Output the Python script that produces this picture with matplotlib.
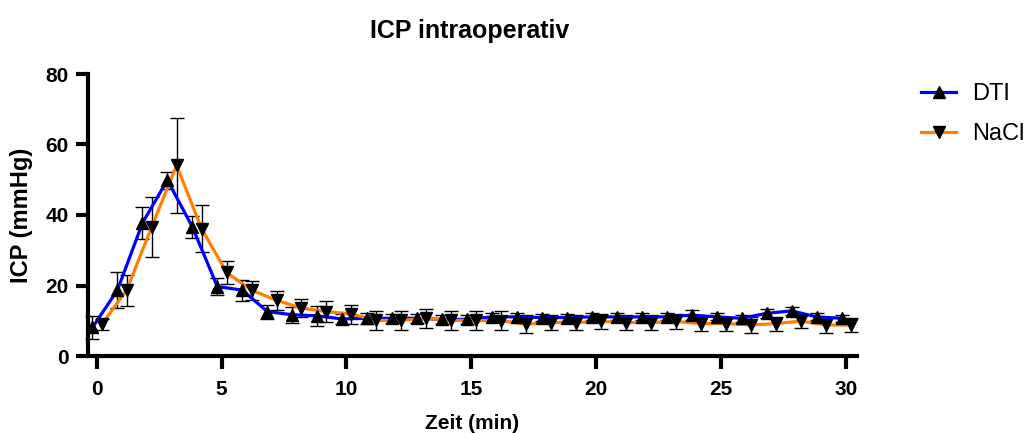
import numpy as np
import matplotlib
matplotlib.use("Agg")
import matplotlib.pyplot as plt

plt.rcParams['font.family'] = ['Liberation Sans', 'DejaVu Sans']
plt.rcParams['font.weight'] = 'bold'

# minutes after start
minutes = np.arange(31)

dti_mean = [8.1, 18.7, 37.7, 49.9, 36.6, 19.7, 18.7, 12.6, 11.7, 11.4, 10.5,
            10.7, 10.7, 10.7, 10.4, 10.4, 11.1, 11.1, 10.9, 10.9, 11.1, 11.1,
            11.1, 11.1, 11.6, 11.1, 10.7, 12.1, 12.8, 11.1, 10.7]
dti_err = [3.2, 5.0, 4.6, 2.4, 3.0, 2.5, 3.0, 2.0, 2.3, 2.9, 1.5, 1.5, 1.2,
           1.2, 1.2, 1.2, 1.2, 1.2, 1.0, 1.0, 1.0, 1.0, 1.0, 1.0, 1.5, 1.0,
           1.0, 1.2, 1.2, 1.0, 1.0]

nacl_mean = [9.0, 18.7, 36.6, 54.1, 36.1, 23.7, 18.7, 15.8, 13.6, 12.6, 11.9,
             10.1, 10.1, 10.7, 10.1, 10.1, 10.0, 9.0, 9.5, 9.5, 9.8, 9.5, 9.5,
             9.8, 9.2, 9.2, 8.8, 9.2, 9.9, 8.8, 8.8]
nacl_err = [1.5, 4.4, 8.5, 13.5, 6.7, 3.3, 2.7, 2.7, 2.5, 3.0, 2.7, 2.7, 2.6,
            2.7, 2.7, 2.6, 2.7, 2.5, 2.2, 2.2, 2.0, 2.0, 2.0, 2.0, 2.0, 2.0,
            2.2, 2.0, 2.0, 2.2, 2.0]

# small horizontal nudge so the two groups don't overlap (as in prism)
nudge_dti = -0.17
nudge_nacl = 0.2

fig = plt.figure(figsize=(10.25, 4.33), dpi=100)
ax = fig.add_axes([88 / 1025, 77 / 433, 769 / 1025, 282 / 433])

x_dti = minutes + nudge_dti
x_nacl = minutes + nudge_nacl

ax.errorbar(x_dti, dti_mean, yerr=dti_err, fmt='none', ecolor='black',
            elinewidth=1.0, capsize=5, capthick=1.0, zorder=2, clip_on=False)
ax.errorbar(x_nacl, nacl_mean, yerr=nacl_err, fmt='none', ecolor='black',
            elinewidth=1.0, capsize=5, capthick=1.0, zorder=2, clip_on=False)

ax.plot(x_dti, dti_mean, color='#0000ff', lw=2.3, zorder=3, clip_on=False)
ax.plot(x_nacl, nacl_mean, color='#ff8000', lw=2.3, zorder=4, clip_on=False)
ax.plot(x_dti, dti_mean, ls='none', marker='^', ms=8.5, color='black',
        zorder=5, clip_on=False)
ax.plot(x_nacl, nacl_mean, ls='none', marker='v', ms=8.5, color='black',
        zorder=5, clip_on=False)

# legend handles
h1, = ax.plot([], [], color='#0000ff', lw=2.3, marker='^', ms=8.5,
              mfc='black', mec='black')
h2, = ax.plot([], [], color='#ff8000', lw=2.3, marker='v', ms=8.5,
              mfc='black', mec='black')
fig.legend([h1, h2], ['DTI', 'NaCl'], loc='upper left',
           bbox_to_anchor=(912 / 1025, 1 - 74 / 433), frameon=False,
           prop={'size': 17, 'weight': 'normal'}, handlelength=1.45,
           labelspacing=0.75, handletextpad=0.7, borderaxespad=0)

ax.set_xlim(-0.35, 30.45)
ax.set_ylim(0, 80)
ax.set_xticks([0, 5, 10, 15, 20, 25, 30])
ax.set_yticks([0, 20, 40, 60, 80])

for s in ['top', 'right']:
    ax.spines[s].set_visible(False)
for s in ['left', 'bottom']:
    ax.spines[s].set_linewidth(3.0)
ax.tick_params(width=3.0, length=9, labelsize=15)
ax.tick_params(axis='x', pad=8)
ax.tick_params(axis='y', pad=5)
for lab in ax.get_xticklabels() + ax.get_yticklabels():
    lab.set_fontweight('bold')

ax.set_xlabel('Zeit (min)', fontsize=15, fontweight='bold', labelpad=11)
ax.set_ylabel('ICP (mmHg)', fontsize=17, fontweight='bold', labelpad=9)
fig.text(470 / 1025, 1 - 31 / 433, 'ICP intraoperativ', ha='center',
         va='center', fontsize=18, fontweight='bold')

fig.savefig('out.png', dpi=100)
